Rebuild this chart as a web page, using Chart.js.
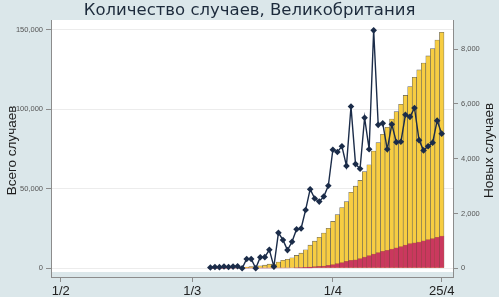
<!DOCTYPE html>
<html><head><meta charset="utf-8">
<script src="https://cdn.jsdelivr.net/npm/chart.js@4.4.1/dist/chart.umd.min.js"></script>
<style>html,body{margin:0;padding:0;background:#dbe7ea;}canvas{display:block;}</style>
</head><body>
<canvas id="c" width="499" height="297"></canvas>
<script>
const titleText = 'Количество случаев, Великобритания';
const leftTitle = 'Всего случаев';
const rightTitle = 'Новых случаев';

const dates = [
 '2020-03-05','2020-03-06','2020-03-07','2020-03-08','2020-03-09','2020-03-10','2020-03-11',
 '2020-03-12','2020-03-13','2020-03-14','2020-03-15','2020-03-16','2020-03-17','2020-03-18',
 '2020-03-19','2020-03-20','2020-03-21','2020-03-22','2020-03-23','2020-03-24','2020-03-25',
 '2020-03-26','2020-03-27','2020-03-28','2020-03-29','2020-03-30','2020-03-31',
 '2020-04-01','2020-04-02','2020-04-03','2020-04-04','2020-04-05','2020-04-06','2020-04-07',
 '2020-04-08','2020-04-09','2020-04-10','2020-04-11','2020-04-12','2020-04-13','2020-04-14',
 '2020-04-15','2020-04-16','2020-04-17','2020-04-18','2020-04-19','2020-04-20','2020-04-21',
 '2020-04-22','2020-04-23','2020-04-24','2020-04-25'];

const totalCases = [
 116,164,207,274,322,384,459,
 459,801,1143,1143,1546,1953,2629,
 2692,3986,5021,5686,6653,8080,9532,
 11661,14546,17092,19525,22144,25153,
 29477,33721,38171,41906,47809,51611,55245,
 60736,65080,73761,78994,84282,88624,93876,
 98479,103096,108695,114220,120070,124746,129047,
 133498,138081,143467,148380];

const totalDeaths = [
 1,2,2,3,4,6,8,
 8,8,21,21,55,71,104,
 144,177,233,281,335,422,465,
 578,759,1019,1228,1408,1789,
 2352,2921,3605,4313,4934,5373,6159,
 7097,7978,8958,9875,10612,11329,12107,
 12868,13729,14576,15464,16060,16509,17337,
 18100,18738,19506,20319];

const newCases = [
 30,48,43,67,48,62,75,
 0,342,342,0,403,407,676,
 63,1294,1035,665,967,1427,1452,
 2129,2885,2546,2433,2619,3009,
 4324,4244,4450,3735,5903,3802,3634,
 5491,4344,8681,5233,5288,4342,5252,
 4603,4617,5599,5525,5850,4676,4301,
 4451,4583,5386,4913];

const xTickDates = ['2020-02-01','2020-03-01','2020-04-01','2020-04-25'];
const xTickLabels = ['1/2','1/3','1/4','25/4'];
const leftTicks = [0,50000,100000,150000];
const rightTicks = [0,2000,4000,6000,8000];

const toDay = s => { const p = s.split('-').map(Number); return (Date.UTC(p[0],p[1]-1,p[2]) - Date.UTC(2020,1,1)) / 864e5; };
const fmt = v => String(v).replace(/\B(?=(\d{3})+(?!\d))/g, ',');
const pts = arr => arr.map((v,i) => ({x: toDay(dates[i]), y: v}));

const BG = '#dbe7ea';
const AXIS = '#8c8c8c';
const FONT = "'Liberation Sans', Arial, sans-serif";

const framePlugin = {
  id: 'frame',
  beforeDraw(chart) {
    const {ctx, chartArea: a} = chart;
    ctx.save();
    ctx.fillStyle = BG;
    ctx.fillRect(0, 0, chart.width, chart.height);
    ctx.fillStyle = '#ffffff';
    ctx.fillRect(a.left, a.top, a.right - a.left, a.bottom - 5 - a.top);
    ctx.restore();
  },
  afterDraw(chart) {
    const {ctx, chartArea: a} = chart;
    const cy = (a.top + a.bottom) / 2 + 2;
    ctx.save();
    ctx.fillStyle = '#1e1e1e';
    ctx.font = "13.5px " + FONT;
    ctx.textAlign = 'center';
    ctx.textBaseline = 'middle';
    ctx.translate(12, cy);
    ctx.rotate(-Math.PI / 2);
    ctx.fillText(leftTitle, 0, 0);
    ctx.restore();
    ctx.save();
    ctx.fillStyle = '#1e1e1e';
    ctx.font = "13.5px " + FONT;
    ctx.textAlign = 'center';
    ctx.textBaseline = 'middle';
    ctx.translate(489, cy);
    ctx.rotate(-Math.PI / 2);
    ctx.fillText(rightTitle, 0, 0);
    ctx.restore();
  }
};

new Chart(document.getElementById('c'), {
  type: 'bar',
  data: {
    datasets: [
      {
        type: 'line', label: 'new', data: pts(newCases), yAxisID: 'y1', order: 0,
        borderColor: '#1b2c49', borderWidth: 1.4, tension: 0,
        pointStyle: 'rectRot', pointRadius: 3.3, pointBackgroundColor: '#1b2c49',
        pointBorderColor: '#1b2c49', pointBorderWidth: 0
      },
      {
        label: 'deaths', data: pts(totalDeaths), yAxisID: 'y', order: 1,
        backgroundColor: 'rgb(202,56,94)', borderColor: 'rgba(120,30,55,0.5)', borderWidth: 0.5,
        barPercentage: 1, categoryPercentage: 1, grouped: false
      },
      {
        label: 'total', data: pts(totalCases), yAxisID: 'y', order: 2,
        backgroundColor: 'rgb(247,205,66)', borderColor: 'rgba(70,70,70,0.85)', borderWidth: 0.6,
        barPercentage: 1, categoryPercentage: 1, grouped: false
      }
    ]
  },
  options: {
    responsive: false, animation: false, devicePixelRatio: 1,
    layout: { padding: 0 },
    plugins: {
      legend: { display: false },
      tooltip: { enabled: false },
      title: {
        display: true, text: titleText, color: '#1d2b3c',
        font: { family: "'DejaVu Sans', sans-serif", size: 16.5, weight: 'normal', lineHeight: 1 },
        padding: { top: 2, bottom: 1.5 }
      }
    },
    scales: {
      x: {
        type: 'linear', min: -2.14, max: 86.49, offset: false,
        afterBuildTicks: s => { s.ticks = xTickDates.map(d => ({ value: toDay(d) })); },
        ticks: { callback: (v, i) => xTickLabels[i], font: { family: FONT, size: 13 }, color: '#222', padding: 2, maxRotation: 0, autoSkip: false },
        grid: { offset: false, drawOnChartArea: false, drawTicks: true, tickLength: 5, tickColor: AXIS },
        border: { color: AXIS, width: 1 },
        afterFit: s => { s.height = 20; }
      },
      y: {
        position: 'left', min: -5469, max: 156098,
        afterBuildTicks: s => { s.ticks = leftTicks.map(v => ({ value: v })); },
        ticks: { callback: v => fmt(v), font: { family: FONT, size: 7.5 }, color: '#555', padding: 3 },
        grid: { color: '#ececec', lineWidth: 1, drawTicks: true, tickLength: 5, tickColor: AXIS },
        border: { color: AXIS, width: 1 },
        afterFit: s => { s.width = 51; }
      },
      y1: {
        position: 'right', min: -317, max: 9058,
        afterBuildTicks: s => { s.ticks = rightTicks.map(v => ({ value: v })); },
        ticks: { callback: v => fmt(v), font: { family: FONT, size: 7.5 }, color: '#555', padding: 3 },
        grid: { drawOnChartArea: false, drawTicks: true, tickLength: 5, tickColor: AXIS },
        border: { color: AXIS, width: 1 },
        afterFit: s => { s.width = 46; }
      }
    }
  },
  plugins: [framePlugin]
});
</script>
</body></html>
